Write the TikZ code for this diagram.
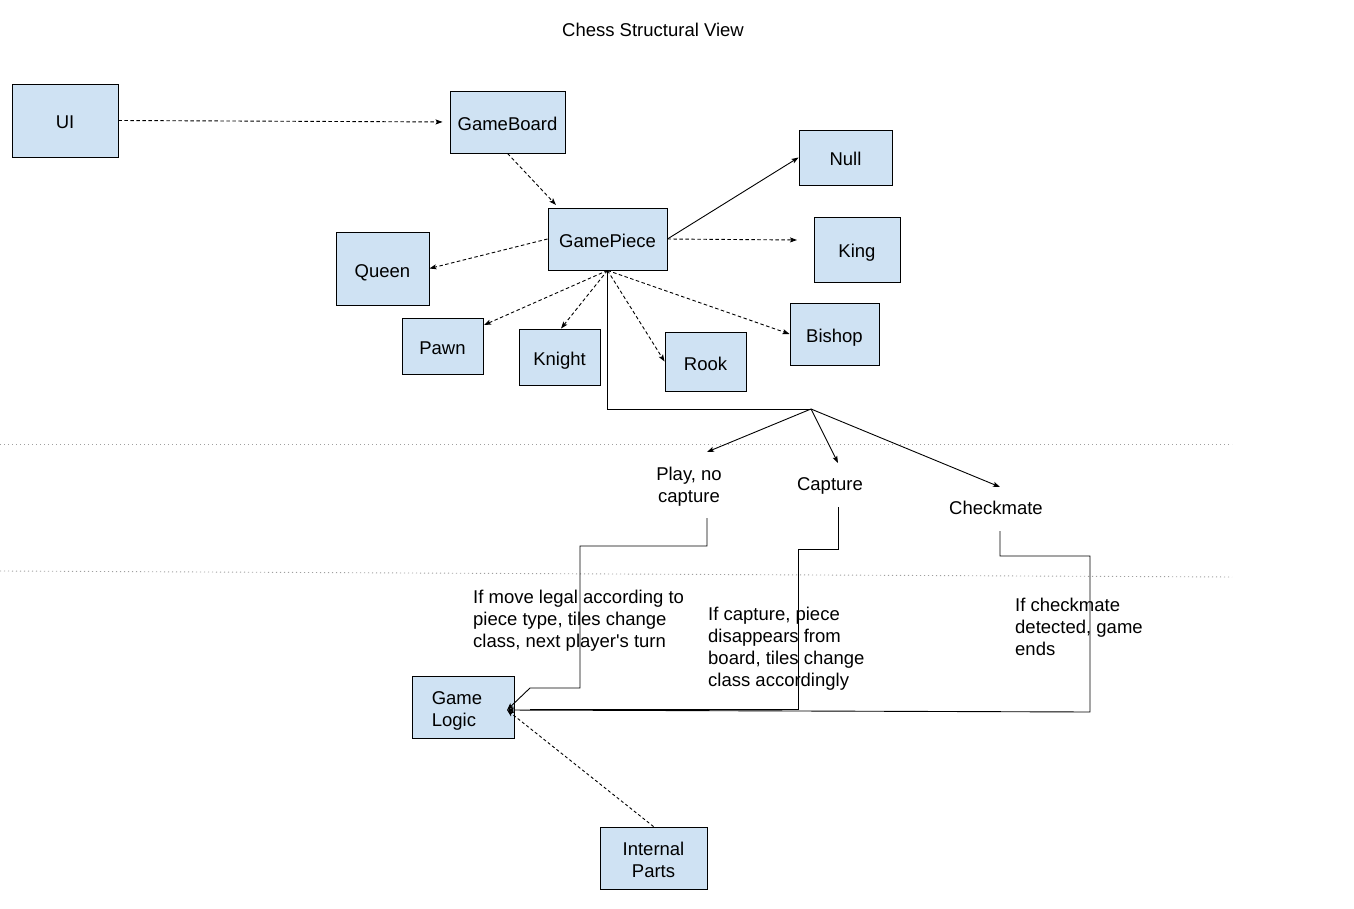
\documentclass[tikz,border=0pt]{standalone}
\usepackage{fontspec}
\setmainfont{Liberation Sans}[Ligatures=TeXOff]
\usetikzlibrary{arrows.meta}
\definecolor{boxblue}{HTML}{CFE2F3}
\newcommand\diagfont{\fontsize{18.5}{22}\selectfont}
\begin{document}
\begin{tikzpicture}[x=1pt,y=-1pt,
  shell/.style={draw=black, line width=0.9pt, fill=boxblue, inner sep=0pt,
              align=center, font=\diagfont},
  box/.style={shell, text height=17pt, text depth=0pt},
  txt/.style={inner sep=0pt, font=\diagfont},
  tip/.style={-{Stealth[length=7pt,width=5pt,inset=1.5pt]}},
  link/.style={line width=0.9pt, tip},
  dlink/.style={link, dash pattern=on 3.5pt off 2.5pt},
  wire/.style={line width=0.9pt},
  sep/.style={draw=gray!75, line width=0.9pt, dash pattern=on 1.2pt off 2.8pt}]
\useasboundingbox (0,0) rectangle (1354,909);

% title
\node[txt, anchor=north] (title) at (653,23) {Chess Structural View};

% section separators
\draw[sep] (0,444) -- (1232,444);
\draw[sep] (0,571) -- (1232,577);

% class boxes
\node[box, minimum width=106pt, minimum height=73pt] (ui)     at (65,120.5)   {UI};
\node[box, minimum width=115pt, minimum height=62pt] (board)  at (507.5,122)  {GameBoard};
\node[box, minimum width=119pt, minimum height=62pt] (piece)  at (607.5,239)  {GamePiece};
\node[box, minimum width=93pt,  minimum height=55pt] (null)   at (845.5,157.5){Null};
\node[box, minimum width=86pt,  minimum height=65pt] (king)   at (857,249.5)  {King};
\node[box, minimum width=93pt,  minimum height=73pt] (queen)  at (382.5,268.5){Queen};
\node[box, minimum width=81pt,  minimum height=56pt] (pawn)   at (442.5,346)  {Pawn};
\node[box, minimum width=81pt,  minimum height=56pt] (knight) at (559.5,357)  {Knight};
\node[box, minimum width=81pt,  minimum height=59pt] (rook)   at (705.5,361.5){Rook};
\node[box, minimum width=89pt,  minimum height=62pt] (bishop) at (834.5,334)  {Bishop};
\node[shell, minimum width=102pt, minimum height=62pt] (logic) at (463,707) {};
\node[txt, align=left] (logictext) at (457,711) {Game\\Logic};
\node[shell, minimum width=107pt, minimum height=62pt] (parts) at (653.5,858) {};
\node[txt, align=center] (partstext) at (653.5,860) {Internal\\Parts};

% outcome labels
\node[txt, anchor=north, align=center] (play)  at (689,467) {Play, no\\capture};
\node[txt, anchor=north] (capture)   at (830,477) {Capture};
\node[txt, anchor=north] (checkmate) at (996,501) {Checkmate};

% rule descriptions
\node[txt, anchor=north west, align=left] (moverule) at (473,590)
  {If move legal according to\\piece type, tiles change\\class, next player's turn};
\node[txt, anchor=north west, align=left] (caprule) at (708,607)
  {If capture, piece\\disappears from\\board, tiles change\\class accordingly};
\node[txt, anchor=north west, align=left] (materule) at (1015,598)
  {If checkmate\\detected, game\\ends};

% helper points
\coordinate (hub)     at (811,409);
\coordinate (kingend) at (797,240);
\coordinate (boardin) at (556,205);
\coordinate (pawnin)  at (484,325);
\coordinate (playin)  at (707,452);
\coordinate (capin)   at (838,463);
\coordinate (matein)  at (1000,487);
\coordinate (logicin) at (507,710);
\coordinate (playout) at (707,518);
\coordinate (capout)  at (838,507);
\coordinate (mateout) at (1000,531);
\coordinate (capend)  at (530,709);

% structure links
\draw[dlink, shorten >=7pt] (ui.east) -- (board.west);
\draw[dlink] (board.south) -- (boardin);
\draw[link] (piece.east) -- (null.west);
\draw[dlink] (piece.east) -- (kingend);
\draw[dlink] (piece.west) -- (queen.east);
\draw[dlink] (piece.south) -- (pawnin);
\draw[dlink] (piece.south) -- ([xshift=1.5pt]knight.north);
\draw[dlink] (piece.south) -- (rook.west);
\draw[dlink] (piece.south) -- (bishop.west);

% move outcomes
\draw[wire] (piece.south) |- (hub);
\draw[link] (hub) -- (playin);
\draw[link] (hub) -- (capin);
\draw[link] (hub) -- (matein);

% rule paths into the game logic
\draw[link] (playout) -- (707,546) -- (580,546) -- (580,688) -- (530,688) -- (logicin);
\draw[wire] (capout) -- (838,549) -- (798,549) -- (798,709) -- (capend);
\draw[link] (mateout) -- (1000,556) -- (1090,556) -- (1090,712) -- (logicin);
\draw[dlink, dash pattern=on 3pt off 2.5pt] (parts.north) -- (logicin);
\end{tikzpicture}
\end{document}
